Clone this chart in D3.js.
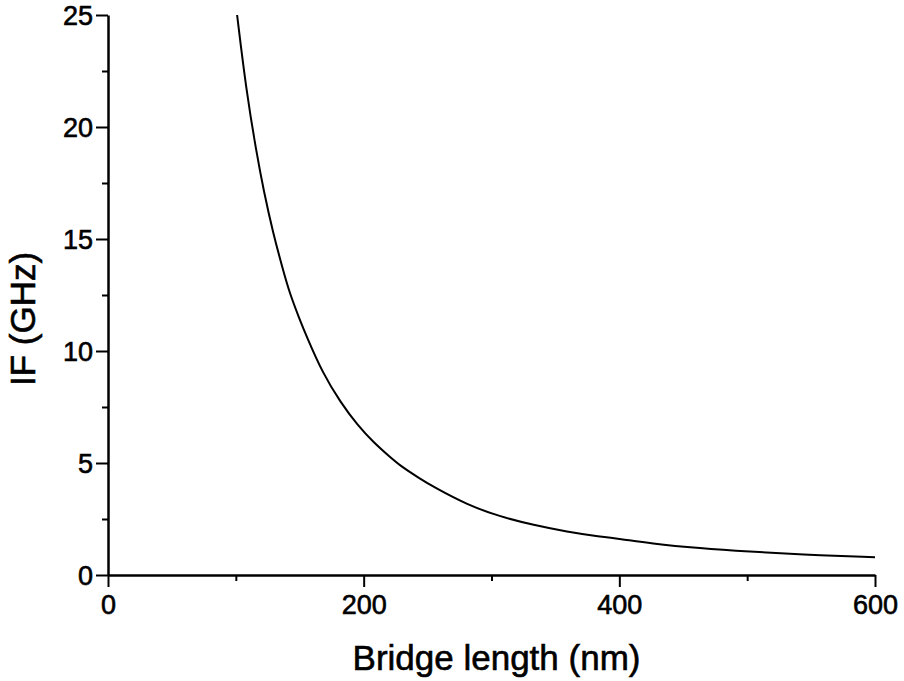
<!DOCTYPE html>
<html>
<head>
<meta charset="utf-8">
<script src="https://cdn.jsdelivr.net/npm/d3@7"></script>
<style>
  body { margin: 0; background: #fff; }
  svg { display: block; }
</style>
</head>
<body>
<div id="chart"></div>
<script>
// Data: bridge length (nm) vs IF (GHz)
var lengths = [101, 108, 116, 122, 129, 137, 142, 150, 155, 168, 182, 195, 208, 221, 228, 244, 255, 281, 307, 333, 359, 385, 400, 424, 463, 502, 541, 600]
var freqs = [25.0, 21.7, 18.9, 17.1, 15.3, 13.6, 12.6, 11.4, 10.7, 9.0, 7.7, 6.7, 5.9, 5.25, 4.9, 4.3, 3.92, 3.13, 2.6, 2.23, 1.93, 1.71, 1.62, 1.41, 1.19, 1.04, 0.92, 0.79]

var xMajor = [0, 200, 400, 600]
var xMinor = [100, 300, 500]
var yMajor = [0, 5, 10, 15, 20, 25]
var yMinor = [2.5, 7.5, 12.5, 17.5, 22.5]

var settings = {}
settings.width = 904
settings.height = 681
settings.left = 108
settings.right = 875
settings.top = 15
settings.bottom = 575
settings.font = 'Liberation Sans, Arial, Helvetica, sans-serif'

var svg = d3.select('#chart').append('svg')
  .attr('width', settings.width)
  .attr('height', settings.height)

var x = d3.scaleLinear().domain([0, 600]).range([settings.left, settings.right])
var y = d3.scaleLinear().domain([0, 25]).range([settings.bottom, settings.top])

// Minor ticks (no labels)
svg.append('g')
  .attr('transform', 'translate(0,' + settings.bottom + ')')
  .call(d3.axisBottom(x).tickValues(xMinor).tickSize(6).tickFormat(''))
  .call(function(g){ g.select('.domain').remove() })
svg.append('g')
  .attr('transform', 'translate(' + settings.left + ',0)')
  .call(d3.axisLeft(y).tickValues(yMinor).tickSize(6).tickFormat(''))
  .call(function(g){ g.select('.domain').remove() })

// Major x axis
var xAxis = svg.append('g')
  .attr('transform', 'translate(0,' + settings.bottom + ')')
  .call(d3.axisBottom(x).tickValues(xMajor).tickSize(12).tickSizeOuter(0).tickPadding(8))

// Major y axis
var yAxis = svg.append('g')
  .attr('transform', 'translate(' + settings.left + ',0)')
  .call(d3.axisLeft(y).tickValues(yMajor).tickSize(12).tickSizeOuter(0).tickPadding(3))

svg.selectAll('.tick line').attr('stroke', '#000').attr('stroke-width', 2)
svg.selectAll('.domain').attr('stroke', '#000').attr('stroke-width', 2.5)
svg.selectAll('.tick text')
  .attr('font-family', settings.font)
  .attr('font-size', 27)
  .attr('fill', '#000')
  .attr('stroke', '#000')
  .attr('stroke-width', 0.6)
yAxis.selectAll('.tick text').attr('dy', '0.34em')

// Curve
var line = d3.line()
  .x(function(d, i){ return x(lengths[i]) })
  .y(function(d){ return y(d) })
  .curve(d3.curveBasis)

svg.append('path')
  .datum(freqs)
  .attr('d', line)
  .attr('fill', 'none')
  .attr('stroke', '#000')
  .attr('stroke-width', 2)

// Axis titles
svg.append('text')
  .attr('x', (settings.left + settings.right) / 2 + 5)
  .attr('y', 670)
  .attr('text-anchor', 'middle')
  .attr('font-family', settings.font)
  .attr('font-size', 35)
  .attr('stroke', '#000')
  .attr('stroke-width', 0.6)
  .text('Bridge length (nm)')

svg.append('text')
  .attr('transform', 'translate(35,319) rotate(-90)')
  .attr('text-anchor', 'middle')
  .attr('font-family', settings.font)
  .attr('font-size', 35)
  .attr('stroke', '#000')
  .attr('stroke-width', 0.6)
  .text('IF (GHz)')
</script>
</body>
</html>
